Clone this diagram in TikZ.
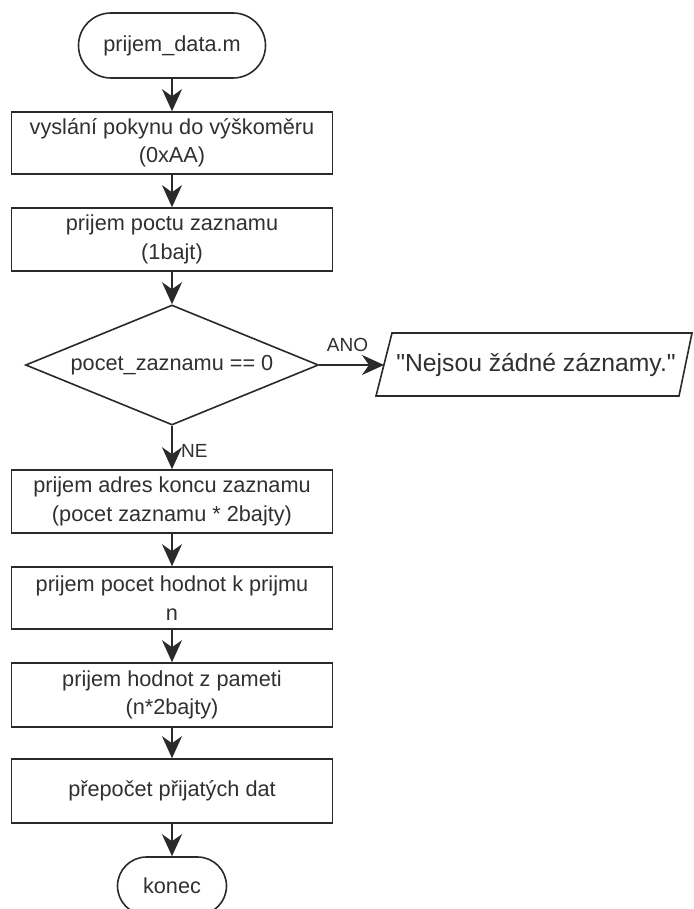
\documentclass[tikz,border=0pt]{standalone}
\usepackage{fontspec}
\setmainfont{Liberation Sans}
\newfontfamily\msgf{Liberation Sans}
\usetikzlibrary{shapes.geometric,shapes.misc,arrows.meta}
\definecolor{lc}{HTML}{2A2A2A}
\definecolor{tc}{HTML}{303030}
\begin{document}
\begin{tikzpicture}[x=1pt,y=-1pt,
  every node/.style={text=tc},
  mf/.style={font=\fontsize{21.7}{28.3}\selectfont},
  box/.style={draw=lc, line width=1.6pt, rectangle, minimum width=321pt, minimum height=63pt, inner sep=0pt, align=center, mf},
  term/.style={draw=lc, line width=1.6pt, rounded rectangle, inner sep=0pt, mf},
  dec/.style={draw=lc, line width=1.6pt, diamond, aspect=2.4417, minimum width=293pt, minimum height=120pt, inner sep=0pt, mf},
  arr/.style={draw=lc, line width=1.6pt, -{Stealth[length=22pt,width=20pt,inset=7pt]}},
  lab/.style={font=\fontsize{19}{22}\selectfont, inner sep=0pt},
]
\path[use as bounding box, fill=white] (0,0) rectangle (693,909);
\node[term, minimum width=187pt, minimum height=65pt] (start) at (172,45.5) {prijem\_data.m};
\node[box, minimum height=62pt] (b1) at (172,143) {vyslání pokynu do výškoměru\\(0xAA)};
\node[box] (b2) at (172,239.5) {prijem poctu zaznamu\\(1bajt)};
\node[dec] (dia) at (172,365) {pocet\_zaznamu == 0};
\draw[lc, line width=1.6pt] (376,396) -- (392,333) -- (692,333) -- (679,396) -- cycle;
\coordinate (pl) at (384,365);
\node[font=\msgf\fontsize{24.7}{28}\selectfont, inner sep=0pt] (msg) at (536,365) {"Nejsou žádné záznamy."};
\node[box] (b3) at (172,501.5) {prijem adres koncu zaznamu\\(pocet zaznamu * 2bajty)};
\node[box, minimum height=62pt] (b4) at (172,598) {prijem pocet hodnot k prijmu\\n};
\node[box, minimum height=64pt] (b5) at (172,695) {prijem hodnot z pameti\\(n*2bajty)};
\node[box, minimum height=64pt] (b6) at (172,791) {přepočet přijatých dat};
\node[term, minimum width=109pt, minimum height=58pt] (end) at (172,886) {konec};
\draw[arr] (start) -- (b1);
\draw[arr] (b1) -- (b2);
\draw[arr] (b2) -- (dia);
\draw[arr] (dia.east) -- (pl);
\draw[arr] (dia) -- (b3);
\draw[arr] (b3) -- (b4);
\draw[arr] (b4) -- (b5);
\draw[arr] (b5) -- (b6);
\draw[arr] (b6) -- (end);
\node[lab] (ano) at (347.5,345) {ANO};
\node[lab, anchor=west] (ne) at (181,451) {NE};
\end{tikzpicture}
\end{document}
